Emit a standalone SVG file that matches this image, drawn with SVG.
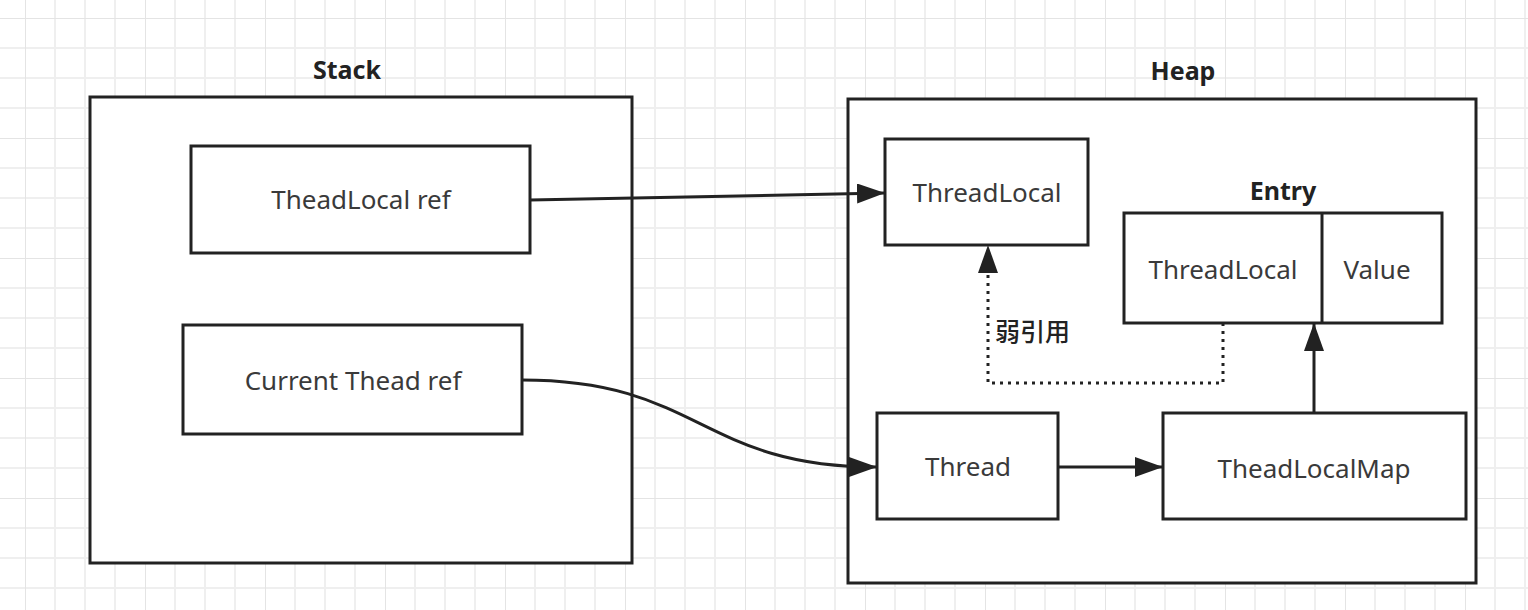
<svg xmlns="http://www.w3.org/2000/svg" width="1528" height="610" viewBox="0 0 1528 610">
<defs>
<pattern id="grid" x="25" y="18" width="120" height="120" patternUnits="userSpaceOnUse">
<path d="M30 0V120M60 0V120M90 0V120M0 30H120M0 60H120M0 90H120" stroke="#efefef" stroke-width="2" fill="none"/>
<path d="M0 0V120M0 0H120" stroke="#e4e4e4" stroke-width="2" fill="none"/>
</pattern>
<marker id="arr" markerUnits="userSpaceOnUse" markerWidth="30" markerHeight="22" refX="28" refY="10" orient="auto" viewBox="0 0 30 22">
<path d="M0 0L28 10L0 20Z" fill="#222"/>
</marker>
<style>
.box{fill:#fff;stroke:#222;stroke-width:3}
.lbl{font-family:"Noto Sans","Open Sans","Liberation Sans",sans-serif;font-size:26px;fill:#3a3a3a;text-anchor:middle}
.ttl{font-family:"Noto Sans","Open Sans","Liberation Sans",sans-serif;font-size:25px;font-weight:bold;fill:#222;text-anchor:middle}
.edge{fill:none;stroke:#222;stroke-width:3}
</style>
</defs>
<rect width="1528" height="610" fill="#fff"/>
<rect width="1528" height="610" fill="url(#grid)"/>

<g id="stack">
<rect class="box" x="90" y="97" width="542" height="466"/>
<text class="ttl" x="347" y="79">Stack</text>
</g>
<g id="heap">
<rect class="box" x="848" y="99" width="628" height="484"/>
<text class="ttl" x="1183" y="80">Heap</text>
</g>
<g id="threadlocal-ref">
<rect class="box" x="191" y="146" width="339" height="107"/>
<text class="lbl" x="361" y="209">TheadLocal ref</text>
</g>
<g id="current-thread-ref">
<rect class="box" x="183" y="325" width="339" height="109"/>
<text class="lbl" x="353" y="390">Current Thead ref</text>
</g>
<g id="threadlocal">
<rect class="box" x="885" y="139" width="203" height="106"/>
<text class="lbl" x="987" y="202">ThreadLocal</text>
</g>
<g id="entry">
<rect class="box" x="1124" y="213" width="318" height="110"/>
<line x1="1322" y1="213" x2="1322" y2="323" stroke="#222" stroke-width="3"/>
<text class="ttl" x="1283" y="200">Entry</text>
<text class="lbl" x="1223" y="279">ThreadLocal</text>
<text class="lbl" x="1377" y="279">Value</text>
</g>
<g id="thread">
<rect class="box" x="877" y="413" width="181" height="106"/>
<text class="lbl" x="968" y="476">Thread</text>
</g>
<g id="threadlocalmap">
<rect class="box" x="1163" y="413" width="303" height="106"/>
<text class="lbl" x="1314" y="478">TheadLocalMap</text>
</g>

<g id="connectors">
<path class="edge" d="M530 200L885 193" marker-end="url(#arr)"/>
<path class="edge" d="M522 380C700 380 700 467 877 467" marker-end="url(#arr)"/>
<path class="edge" d="M1058 467L1163 467" marker-end="url(#arr)"/>
<path class="edge" d="M1314 413L1314 323" marker-end="url(#arr)"/>
<path class="edge" d="M1223 323V383H988V245" stroke-dasharray="3 5" marker-end="url(#arr)"/>
<text x="995" y="341" font-family="'Noto Sans CJK SC','Noto Sans',sans-serif" font-size="25" font-weight="500" fill="#222">弱引用</text>
</g>
</svg>
